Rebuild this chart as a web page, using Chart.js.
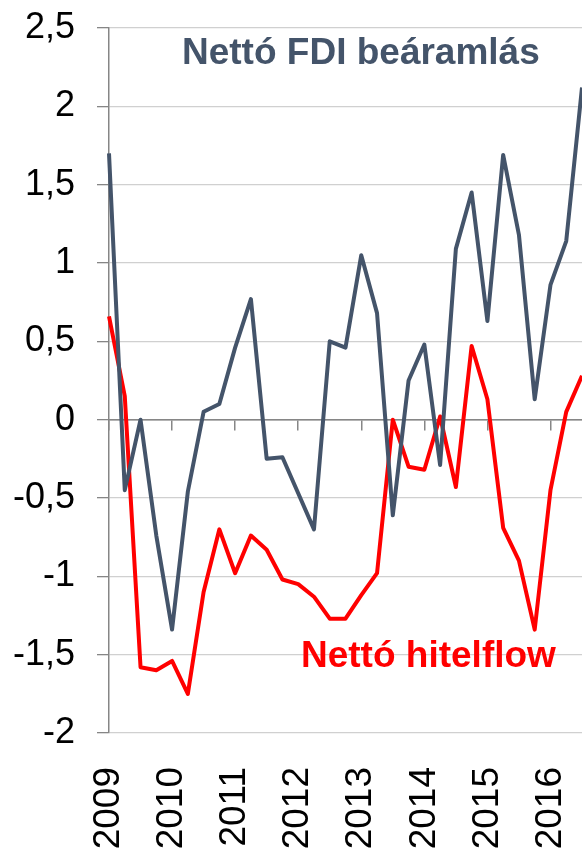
<!DOCTYPE html>
<html>
<head>
<meta charset="utf-8">
<script src="https://cdn.jsdelivr.net/npm/chart.js@4.4.0/dist/chart.umd.min.js"></script>
<style>
  body { margin: 0; background: #fff; }
  #wrap { position: relative; width: 582px; height: 849px; overflow: hidden; }
  .lbl { position: absolute; font: bold 37px 'Liberation Sans', Arial, sans-serif; line-height: 37px; white-space: nowrap; }
</style>
</head>
<body>
<div id="wrap">
  <canvas id="myChart" width="582" height="849"></canvas>
  <div class="lbl" style="left:182px; top:33px; color:#44546A;">Nettó FDI beáramlás</div>
  <div class="lbl" style="left:301px; top:636px; color:#FF0000;">Nettó hitelflow</div>
</div>
<script>
var years = ['2009', '2010', '2011', '2012', '2013', '2014', '2015', '2016'];

// quarterly points, 2009 Q1 .. 2016 Q3
var quarters = [];
years.forEach(function (y) {
  for (var q = 1; q <= 4; q++) quarters.push(y + ' Q' + q);
});
quarters = quarters.slice(0, 31);

var fdi = [1.70, -0.45, 0.00, -0.74, -1.34, -0.46, 0.05, 0.10, 0.46, 0.77,
           -0.25, -0.24, -0.47, -0.70, 0.50, 0.46, 1.05, 0.68, -0.61, 0.25,
           0.48, -0.29, 1.09, 1.45, 0.63, 1.69, 1.18, 0.13, 0.86, 1.14, 2.12];

var credit = [0.66, 0.15, -1.58, -1.60, -1.54, -1.75, -1.10, -0.70, -0.98, -0.74,
              -0.83, -1.02, -1.05, -1.13, -1.27, -1.27, -1.12, -0.98, 0.00, -0.30,
              -0.32, 0.02, -0.43, 0.47, 0.13, -0.69, -0.90, -1.34, -0.45, 0.05, 0.28];

var yMin = -2, yMax = 2.5, yStep = 0.5;

var font = "'Liberation Sans', Arial, sans-serif";
var axisGrey = '#868686';

var ctx = document.getElementById('myChart');
var myChart = new Chart(ctx, {
  type: 'line',
  data: {
    labels: quarters,
    datasets: [{
      label: 'Nettó FDI beáramlás',
      data: fdi,
      borderColor: '#44546A',
      borderWidth: 4,
      pointRadius: 0,
      tension: 0,
      borderJoinStyle: 'round'
    }, {
      label: 'Nettó hitelflow',
      data: credit,
      borderColor: '#FF0000',
      borderWidth: 4,
      pointRadius: 0,
      tension: 0,
      borderJoinStyle: 'round'
    }]
  },
  options: {
    responsive: false,
    animation: false,
    layout: { padding: { top: 28, left: 0, right: 0, bottom: 0 } },
    plugins: {
      legend: { display: false },
      tooltip: { enabled: false }
    },
    scales: {
      x: {
        type: 'category',
        offset: false,
        grid: { display: false },
        border: { display: false },
        ticks: {
          autoSkip: false,
          minRotation: 90,
          maxRotation: 90,
          padding: 26,
          color: '#000',
          font: { family: font, size: 37 },
          callback: function (v, i) {
            return i % 4 === 0 ? this.getLabelForValue(v).slice(0, 4) : '';
          }
        },
        afterFit: function (s) { s.height = 116; s.paddingLeft = 0; s.paddingRight = 0; }
      },
      x2: {
        type: 'category',
        axis: 'x',
        position: { y: 0 },
        offset: false,
        grid: {
          drawOnChartArea: false,
          tickLength: 10,
          lineWidth: 1.5,
          color: function (c) { return c.index % 4 === 0 ? axisGrey : 'rgba(0,0,0,0)'; }
        },
        border: { color: axisGrey, width: 1.5 },
        ticks: { display: false, autoSkip: false }
      },
      y: {
        min: yMin,
        max: yMax,
        grid: {
          tickLength: 12,
          lineWidth: 1.3,
          color: function (c) { return c.tick && c.tick.value === 0 ? axisGrey : '#D0D0D0'; },
          tickColor: axisGrey
        },
        border: { color: axisGrey, width: 1.5 },
        ticks: {
          stepSize: yStep,
          padding: 22,
          color: '#000',
          font: { family: font, size: 36 },
          callback: function (v) { return String(v).replace('.', ','); }
        },
        afterFit: function (s) { s.width = 109; s.paddingTop = 0; s.paddingBottom = 0; }
      }
    }
  }
});
</script>
</body>
</html>
